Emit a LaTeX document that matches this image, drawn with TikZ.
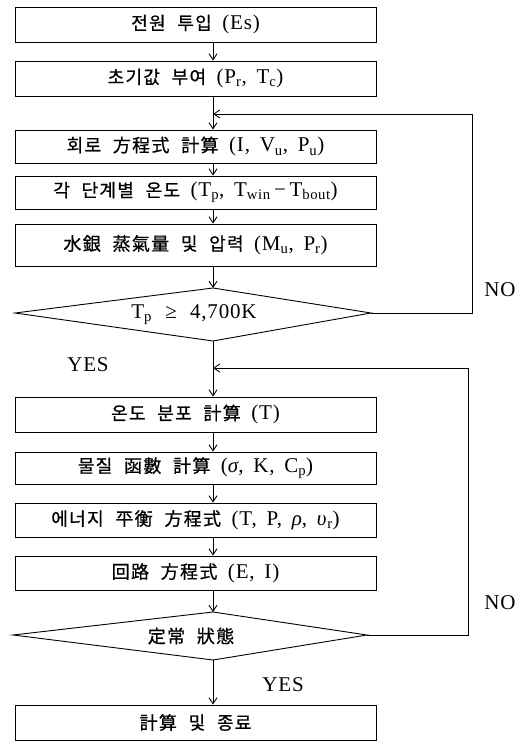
\documentclass[tikz,border=0pt]{standalone}
\usepackage{fontspec}
\setmainfont{Liberation Serif}[LetterSpace=4, WordSpace=1.6]
\newfontfamily\kr{Noto Sans CJK KR}[Scale=0.86, LetterSpace=7, WordSpace=2.2, FakeBold=0.7]
\usetikzlibrary{arrows.meta}
\newcommand{\sbs}[1]{\textsubscript{#1}}
\newcommand{\gap}{\hspace{0.5em}}
\begin{document}
\begin{tikzpicture}[x=1pt,y=-1pt,
  every node/.style={font=\fontsize{21}{24}\selectfont},
  box/.style={draw, line width=0.9pt, minimum width=361pt, inner sep=0pt},
  dia/.style={draw, line width=0.9pt},
  arr/.style={line width=0.9pt, -{Straight Barb[length=6pt,width=8pt]}},
  lbl/.style={inner sep=0pt}]
\useasboundingbox (0,0) rectangle (525,743);
\coordinate (ax) at (213,0);
% boxes
\node[box, minimum height=35pt] (b1) at (195.5,24.5) {{\kr 전원 투입}\gap(Es)};
\node[box, minimum height=35pt] (b2) at (195.5,78.5) {{\kr 초기값 부여}\gap(P\sbs{r}, T\sbs{c})};
\node[box, minimum height=33pt] (b3) at (195.5,146.5) {{\kr 회로 方程式 計算}\gap(I, V\sbs{u}, P\sbs{u})};
\node[box, minimum height=33pt] (b4) at (195.5,192.5) {{\kr 각 단계별 온도}\gap(T\sbs{p}, T\sbs{win}\,−\,T\sbs{bout})};
\node[box, minimum height=42pt] (b5) at (195.5,245) {{\kr 水銀 蒸氣量 및 압력}\gap(M\sbs{u}, P\sbs{r})};
% diamond 1
\coordinate (d1l) at (15,313);
\coordinate (d1t) at (213,288);
\coordinate (d1r) at (371,313);
\coordinate (d1b) at (213,341);
\draw[dia] (d1l) -- (d1t) -- (d1r) -- (d1b) -- cycle;
\node[lbl] (d1) at (194,315) {T\sbs{p} \,≥\, 4,700K};
% boxes 2
\node[box, minimum height=35pt] (b6) at (195.5,414.5) {{\kr 온도 분포 計算}\gap(T)};
\node[box, minimum height=32pt] (b7) at (195.5,468) {{\kr 물질 函數 計算}\gap(\textit{σ}, K, C\sbs{p})};
\node[box, minimum height=34pt] (b8) at (195.5,520) {{\kr 에너지 平衡 方程式}\gap(T, P, \textit{ρ}, \textit{υ}\sbs{r})};
\node[box, minimum height=34pt] (b9) at (195.5,573) {{\kr 回路 方程式}\gap(E, I)};
% diamond 2
\coordinate (d2l) at (13,635);
\coordinate (d2t) at (213,612);
\coordinate (d2r) at (367,635);
\coordinate (d2b) at (213,660);
\draw[dia] (d2l) -- (d2t) -- (d2r) -- (d2b) -- cycle;
\node[lbl] (d2) at (191,636) {\kr 定常 狀態};
\node[box, minimum height=35pt] (b10) at (195.5,722.5) {\kr 計算 및 종료};
% main flow
\draw[arr] (b1.south -| ax) -- (b2.north -| ax);
\draw[arr] (b2.south -| ax) -- (b3.north -| ax);
\draw[arr] (b3.south -| ax) -- (b4.north -| ax);
\draw[arr] (b4.south -| ax) -- (b5.north -| ax);
\draw[arr] (b5.south -| ax) -- (d1t);
\draw[arr] (d1b) -- (b6.north -| ax);
\draw[arr] (b6.south -| ax) -- (b7.north -| ax);
\draw[arr] (b7.south -| ax) -- (b8.north -| ax);
\draw[arr] (b8.south -| ax) -- (b9.north -| ax);
\draw[arr] (b9.south -| ax) -- (d2t);
\draw[arr] (d2b) -- (b10.north -| ax);
% loops
\coordinate (l1a) at (472,313);
\coordinate (l1b) at (472,114);
\coordinate (j1) at (213,114);
\draw[arr] (d1r) -- (l1a) -- (l1b) -- (j1);
\coordinate (l2a) at (468,635);
\coordinate (l2b) at (468,368);
\coordinate (j2) at (213,368);
\draw[arr] (d2r) -- (l2a) -- (l2b) -- (j2);
% labels
\node[lbl] (no1) at (500,290) {NO};
\node[lbl] (yes1) at (88,365) {YES};
\node[lbl] (no2) at (500,603) {NO};
\node[lbl] (yes2) at (283,685) {YES};
\end{tikzpicture}
\end{document}
